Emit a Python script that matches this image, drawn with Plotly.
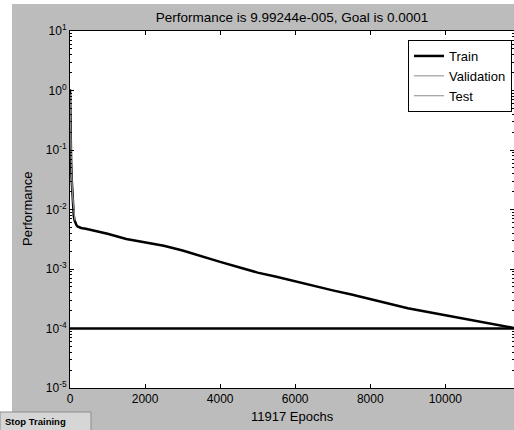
import plotly.graph_objects as go

# ---- data ----
train_epochs = [0, 5, 10, 20, 30, 45, 60, 80, 100, 120, 140, 170, 200, 300, 450, 600,
                800, 1000, 1500, 2000, 2500, 3000, 3500, 4000, 4500, 5000, 5500, 6000,
                6500, 7000, 7500, 8000, 8500, 9000, 9500, 10000, 10500, 11000, 11500, 11917]
train_perf = [1.05, 0.5, 0.25, 0.125, 0.063, 0.032, 0.018, 0.0112, 0.0079, 0.0066, 0.006,
              0.0055, 0.0052, 0.0049, 0.0047, 0.0045, 0.0042, 0.0039, 0.0032, 0.0028,
              0.00245, 0.00204, 0.00162, 0.00132, 0.00107, 0.00087, 0.00074, 0.00062,
              0.000513, 0.000437, 0.000372, 0.000309, 0.000257, 0.000219, 0.000191,
              0.000166, 0.000145, 0.000129, 0.000112, 0.0000999244]
val_epochs = [0, 8, 20, 40, 70, 100, 130]
val_perf = [0.9, 0.35, 0.12, 0.045, 0.018, 0.0095, 0.0068]
test_epochs = [0, 8, 20, 40, 70, 100, 130]
test_perf = [0.85, 0.3, 0.1, 0.04, 0.016, 0.009, 0.0065]
goal = 0.0001
total_epochs = 11917

y_ticks = [1e-5, 1e-4, 1e-3, 1e-2, 1e-1, 1e0, 1e1]
y_ticktext = ["10<sup>-5</sup>", "10<sup>-4</sup>", "10<sup>-3</sup>", "10<sup>-2</sup>",
              "10<sup>-1</sup>", "10<sup>0</sup>", "10<sup>1</sup>"]
x_ticks = [0, 2000, 4000, 6000, 8000, 10000]
x_ticktext = ["0", "2000", "4000", "6000", "8000", "10000"]

FONT = "Liberation Sans, Arial, sans-serif"
GRAY = "#bcbcbc"

fig = go.Figure()
fig.add_trace(go.Scatter(x=train_epochs, y=train_perf, mode="lines", name="Train",
                         line=dict(color="black", width=2.5)))
fig.add_trace(go.Scatter(x=val_epochs, y=val_perf, mode="lines", name="Validation",
                         line=dict(color="#8a8a8a", width=1)))
fig.add_trace(go.Scatter(x=test_epochs, y=test_perf, mode="lines", name="Test",
                         line=dict(color="#8a8a8a", width=1)))
fig.add_trace(go.Scatter(x=[0, total_epochs], y=[goal, goal], mode="lines",
                         showlegend=False, line=dict(color="black", width=2.5)))

# plot area geometry in pixels
L, R, T, B = 70, 514, 31, 388
W, H = 514, 430
def px(p):
    return (p - L) / (R - L)
def py(p):
    return (B - p) / (B - T)

minor_vals = [k * 10 ** e for e in range(-5, 1) for k in range(2, 10)]

fig.update_layout(
    width=W, height=H,
    margin=dict(l=L, r=W - R, t=T, b=H - B, pad=0, autoexpand=False),
    paper_bgcolor=GRAY, plot_bgcolor="white",
    font=dict(family=FONT, size=12, color="black"),
    title=dict(text="Performance is 9.99244e-005, Goal is 0.0001",
               x=px(292), xref="paper", xanchor="center",
               y=1 - 17 / H, yref="container", yanchor="middle",
               font=dict(family=FONT, size=13.5, color="black")),
    xaxis=dict(range=[0, 11830], tickmode="array", tickvals=x_ticks, ticktext=x_ticktext,
               ticks="inside", ticklen=4, tickcolor="black", showline=True,
               linecolor="black", linewidth=1, mirror="ticks", showgrid=False,
               zeroline=False, tickfont=dict(size=12, family=FONT)),
    yaxis=dict(type="log", range=[-5, 1], tickmode="array", tickvals=y_ticks,
               ticktext=y_ticktext, ticks="inside", ticklen=4, tickcolor="black",
               showline=True, linecolor="black", linewidth=1, mirror="ticks",
               showgrid=False, zeroline=False, tickfont=dict(size=12, family=FONT),
               minor=dict(tickmode="array", tickvals=minor_vals, ticks="inside",
                          ticklen=2, tickcolor="black", showgrid=False)),
    legend=dict(x=px(512), xanchor="right", y=py(40), yanchor="top",
                bgcolor="white", bordercolor="black", borderwidth=1,
                font=dict(size=13, family=FONT), tracegroupgap=0),
    showlegend=True,
    shapes=[
        # white strips outside the figure window
        dict(type="rect", xref="paper", yref="paper", x0=px(-2), x1=px(12),
             y0=py(H + 2), y1=py(-2), fillcolor="white", line=dict(width=0), layer="above"),
        dict(type="rect", xref="paper", yref="paper", x0=px(-2), x1=px(W + 2),
             y0=py(4), y1=py(-2), fillcolor="white", line=dict(width=0), layer="above"),
        # Stop Training button
        dict(type="rect", xref="paper", yref="paper", x0=px(0), x1=px(91),
             y0=py(H + 2), y1=py(412), fillcolor="#d6d6d6",
             line=dict(color="#8c8c8c", width=1), layer="above"),
    ],
    annotations=[
        dict(text="Performance", x=px(27), y=py(209), xref="paper", yref="paper",
             textangle=-90, showarrow=False, xanchor="center", yanchor="middle",
             font=dict(size=13, family=FONT)),
        dict(text="11917 Epochs", x=px(292), y=py(416), xref="paper", yref="paper",
             showarrow=False, xanchor="center", yanchor="middle",
             font=dict(size=13, family=FONT)),
        dict(text="<b>Stop Training</b>", x=px(3), y=py(421), xref="paper", yref="paper",
             showarrow=False, xanchor="left", yanchor="middle",
             font=dict(size=9.5, family=FONT)),
    ],
)

fig.write_html("out.html", config={"displayModeBar": False},
               post_script="document.body.style.margin='0';document.body.style.overflow='hidden';")
